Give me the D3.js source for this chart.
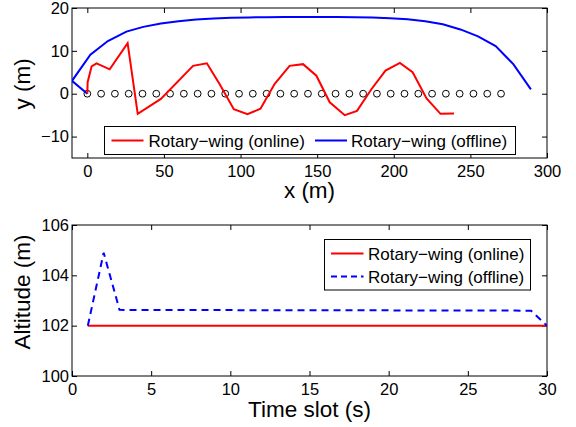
<!DOCTYPE html>
<html>
<head>
<meta charset="utf-8">
<script src="https://cdn.jsdelivr.net/npm/d3@7"></script>
<style>
  body { margin: 0; background: #fff; }
  text { font-family: "Liberation Sans", Arial, Helvetica, sans-serif; fill: #000; }
</style>
</head>
<body>
<div id="chart"></div>
<script>
const [red, blue, black] = ["#ff0000", "#0000ff", "#000000"];

// ---- top panel: trajectories in the x-y plane ----
const onlineX = [0, 0.2, 2.8, 6, 14.6, 26.3, 32.9, 48, 69, 78, 86.4, 95.6, 104.5, 113, 122.3, 132, 140.8, 149.5,
                 158.2, 168, 176, 185.5, 194.6, 204, 212.3, 221.4, 230.5, 239.3];
const onlineY = [0, 2.7, 6.4, 7.1, 5.7, 11.8, -4.7, -1.2, 6.5, 7.1, 2.2, -3.6, -4.8, -3.5, 2.3, 6.5, 6.9, 4.2,
                 -2.0, -5.0, -4.0, 1.1, 5.4, 7.2, 5.0, -1.1, -4.7, -4.6];

const offlineX = [0, -10, 2, 13.4, 25.5, 36.5, 48, 59.5, 71, 82.5, 94, 105.5, 117, 128.5, 140, 151.5, 163,
                  174.5, 186, 197.5, 209, 220.5, 232, 243.5, 255, 266.5, 278, 289.5];
const offlineY = [0, 3, 9.1, 12.3, 14.5, 15.6, 16.4, 16.9, 17.3, 17.55, 17.7, 17.8, 17.85, 17.9, 17.9, 17.9,
                  17.9, 17.85, 17.8, 17.6, 17.35, 16.9, 16.2, 15.0, 13.4, 11.1, 6.9, 1.0];

// ground users along the road
const userX = d3.range(0, 271, 9);
const userY = userX.map(() => 0);

const topXTicks = [0, 50, 100, 150, 200, 250, 300];
const topYTicks = [-10, 0, 10, 20];

// ---- bottom panel: altitude per time slot ----
const slots = d3.range(1, 31);
const altOnline = slots.map(() => 102);
const altOffline = [102, 104.9, 102.63, 102.62, 102.62, 102.62, 102.62, 102.62, 102.62, 102.62, 102.61, 102.61,
                    102.61, 102.61, 102.61, 102.61, 102.61, 102.61, 102.61, 102.61, 102.6, 102.6, 102.6, 102.6,
                    102.6, 102.6, 102.6, 102.6, 102.59, 102.0];
const botXTicks = [0, 5, 10, 15, 20, 25, 30];
const botYTicks = [100, 102, 104, 106];

const seriesNames = ["Rotary\u2212wing (online)", "Rotary\u2212wing (offline)"];

const W = 576, H = 427;
const svg = d3.select("#chart").append("svg").attr("width", W).attr("height", H);

const fmt = d => String(d).replace("-", "\u2212");

function panel(box, xDom, yDom, xTicks, yTicks, xLabel, yLabel, id) {
  const x = d3.scaleLinear().domain(xDom).range([box.l, box.r]);
  const y = d3.scaleLinear().domain(yDom).range([box.b, box.t]);
  const g = svg.append("g");
  const tick = 5;

  g.append("g").attr("transform", `translate(0,${box.b})`)
    .call(d3.axisBottom(x).tickValues(xTicks).tickFormat(fmt).tickSizeInner(-tick).tickSizeOuter(0).tickPadding(7));
  g.append("g").attr("transform", `translate(0,${box.t})`)
    .call(d3.axisTop(x).tickValues(xTicks).tickFormat("").tickSizeInner(-tick).tickSizeOuter(0));
  g.append("g").attr("transform", `translate(${box.l},0)`)
    .call(d3.axisLeft(y).tickValues(yTicks).tickFormat(fmt).tickSizeInner(-tick).tickSizeOuter(0).tickPadding(3));
  g.append("g").attr("transform", `translate(${box.r},0)`)
    .call(d3.axisRight(y).tickValues(yTicks).tickFormat("").tickSizeInner(-tick).tickSizeOuter(0));

  g.selectAll(".domain").remove();
  g.selectAll(".tick line").attr("stroke", black).attr("stroke-width", 1);
  g.selectAll(".tick text").attr("font-size", 16.5).style("font-family", '"Liberation Sans", Arial, sans-serif');

  g.append("rect").attr("x", box.l).attr("y", box.t)
    .attr("width", box.r - box.l).attr("height", box.b - box.t)
    .attr("fill", "none").attr("stroke", black).attr("stroke-width", 1);

  svg.append("clipPath").attr("id", id).append("rect")
    .attr("x", box.l).attr("y", box.t).attr("width", box.r - box.l).attr("height", box.b - box.t);

  g.append("text").attr("x", (box.l + box.r) / 2).attr("y", box.b + box.xlab)
    .attr("text-anchor", "middle").attr("font-size", 22.5).text(xLabel);
  g.append("text")
    .attr("transform", `translate(${box.l - 42},${box.ymid}) rotate(-90)`)
    .attr("text-anchor", "middle").attr("font-size", 22.5).text(yLabel);

  return { x, y, g, clip: `url(#${id})` };
}

function drawLine(p, xs, ys, color, dash) {
  const line = d3.line().x((d, i) => p.x(xs[i])).y(d => p.y(d));
  p.g.append("path").datum(ys)
    .attr("clip-path", p.clip)
    .attr("fill", "none").attr("stroke", color).attr("stroke-width", 2)
    .attr("stroke-dasharray", dash || null)
    .attr("d", line);
}

// top panel
const topP = panel({ l: 72, r: 547, t: 8, b: 158, xlab: 40, ymid: 84 }, [-10, 300], [-15, 20],
                   topXTicks, topYTicks, "x (m)", "y (m)", "clipTop");

topP.g.selectAll(".user").data(userX).enter().append("circle")
  .attr("class", "user")
  .attr("cx", d => topP.x(d))
  .attr("cy", (d, i) => topP.y(userY[i]))
  .attr("r", 3.4)
  .attr("fill", "none").attr("stroke", black).attr("stroke-width", 1);

drawLine(topP, offlineX, offlineY, blue);
drawLine(topP, onlineX, onlineY, red);

// top legend (horizontal)
const lg1 = topP.g.append("g");
lg1.append("rect").attr("x", 104.5).attr("y", 126.5).attr("width", 411).attr("height", 28)
  .attr("fill", "#fff").attr("stroke", black).attr("stroke-width", 1);
[[111.5, 148.5, red], [315, 351, blue]].forEach(([lx, tx, c], i) => {
  lg1.append("line").attr("x1", lx).attr("x2", lx + 32).attr("y1", 140.5).attr("y2", 140.5)
    .attr("stroke", c).attr("stroke-width", 2);
  lg1.append("text").attr("x", tx).attr("y", 146.5).attr("font-size", 17).text(seriesNames[i]);
});

// bottom panel
const botP = panel({ l: 72, r: 547, t: 225, b: 376, xlab: 41, ymid: 292 }, [0, 30], [100, 106],
                   botXTicks, botYTicks, "Time slot (s)", "Altitude (m)", "clipBot");

drawLine(botP, slots, altOnline, red);
drawLine(botP, slots, altOffline, blue, "7,5");

// bottom legend (vertical)
const lg2 = botP.g.append("g");
lg2.append("rect").attr("x", 324.5).attr("y", 239.5).attr("width", 206).attr("height", 50.5)
  .attr("fill", "#fff").attr("stroke", black).attr("stroke-width", 1);
[[253.5, red, null], [276.5, blue, "6,4"]].forEach(([ly, c, dash], i) => {
  lg2.append("line").attr("x1", 331).attr("x2", 363.5).attr("y1", ly).attr("y2", ly)
    .attr("stroke", c).attr("stroke-width", 2).attr("stroke-dasharray", dash);
  lg2.append("text").attr("x", 368).attr("y", ly + 6).attr("font-size", 17).text(seriesNames[i]);
});
</script>
</body>
</html>
